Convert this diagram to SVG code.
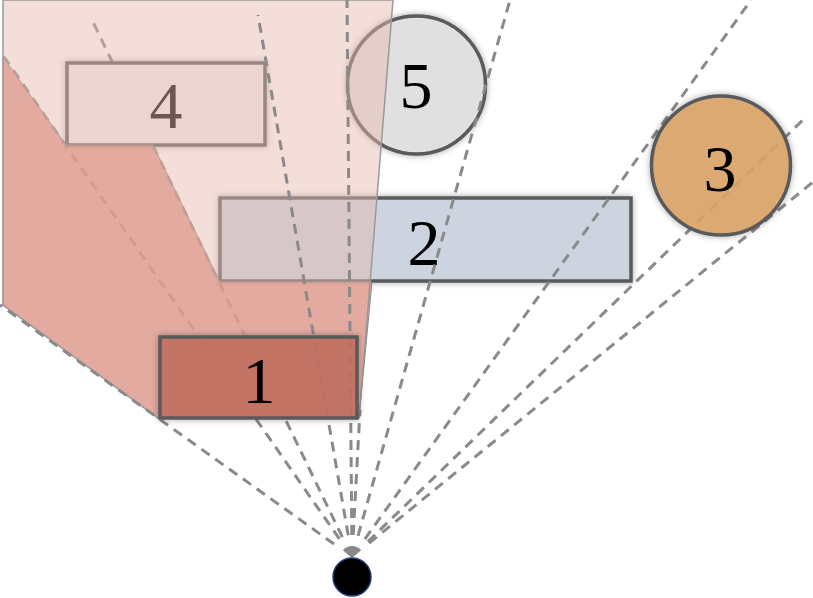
<svg xmlns="http://www.w3.org/2000/svg" width="813" height="598" viewBox="0 0 813 598">
<defs>
<filter id="sh" x="-20%" y="-30%" width="140%" height="160%">
<feDropShadow dx="0" dy="0" stdDeviation="3" flood-color="#000" flood-opacity="0.35"/>
</filter>
</defs>
<style>
.ray{stroke:#8a8a8a;stroke-width:3;stroke-dasharray:10 7;fill:none}
.box{stroke:#5a5a5a;stroke-width:3.5}
.lbl{font-family:"Liberation Serif","Times New Roman",serif;font-size:66px;text-anchor:middle;fill:#000}
</style>
<rect width="813" height="598" fill="#fff"/>
<g id="connectors-under">
<line class="ray" x1="339.4" y1="538.9" x2="2" y2="54"/>
<line class="ray" x1="342.4" y1="537.2" x2="93" y2="22"/>
</g>
<g id="node4" filter="url(#sh)">
<rect class="box" x="67" y="63" width="198" height="82" fill="#eeeeee"/>
<text class="lbl" x="166" y="128">4</text>
</g>
<g id="node2" filter="url(#sh)">
<rect class="box" x="220" y="198" width="411" height="83" fill="#cdd3df"/>
<text class="lbl" x="424" y="265">2</text>
</g>
<g id="node5" filter="url(#sh)">
<circle class="box" cx="416.5" cy="85" r="69" fill="#e0e0e0"/>
<text class="lbl" x="416" y="108">5</text>
</g>
<g id="shadow-dark">
<polygon points="3,57 66,145 153,145 220,282 372,282 359,418 158,418 3,305" fill="#d77e6f" fill-opacity="0.75" stroke="#8a8a8a" stroke-width="1"/>
</g>
<g id="shadow-light">
<polygon points="3,0 393,0 359,418 158,418 3,305" fill="rgb(230,185,175)" fill-opacity="0.47" stroke="#999" stroke-width="1.5"/>
</g>
<g id="connectors">
<line class="ray" x1="334" y1="544" x2="0" y2="305"/>
<line class="ray" x1="348.2" y1="535.3" x2="258" y2="15"/>
<line class="ray" x1="351.8" y1="535" x2="347" y2="0"/>
<line class="ray" x1="353.2" y1="535" x2="360" y2="410"/>
<line class="ray" x1="358" y1="535.8" x2="510" y2="0"/>
<line class="ray" x1="364.8" y1="539.1" x2="751" y2="0"/>
<line class="ray" x1="367.8" y1="541.7" x2="806" y2="117"/>
<line class="ray" x1="369.1" y1="543.1" x2="813" y2="182"/>
</g>
<g id="node1" filter="url(#sh)">
<rect class="box" x="160" y="337" width="197" height="81" fill="#c4705f" fill-opacity="0.85"/>
<text class="lbl" x="259" y="403">1</text>
</g>
<g id="node3" filter="url(#sh)">
<circle class="box" cx="721" cy="165.5" r="69.5" fill="#dca566" fill-opacity="0.88"/>
<text class="lbl" x="720" y="191">3</text>
</g>
<g id="observer">
<path d="M352 558 L342.8 550.3 A12 12 0 0 1 361.2 550.3 Z" fill="#888"/>
<circle cx="352" cy="577" r="19" fill="#000" stroke="#1f3f7f" stroke-width="1.5"/>
</g>
</svg>
